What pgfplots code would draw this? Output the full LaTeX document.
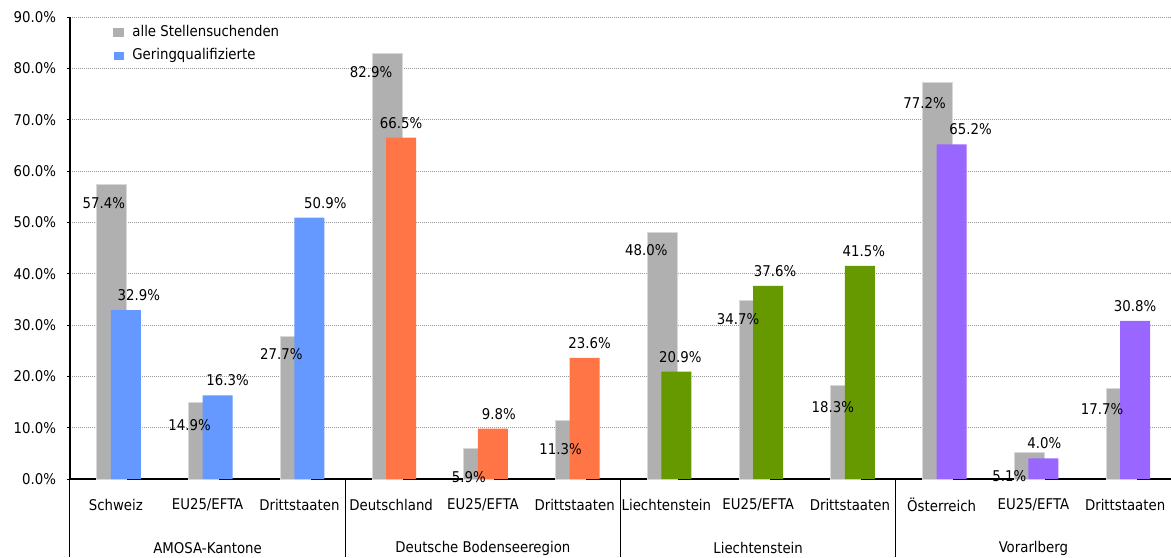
\documentclass[border=0pt]{standalone}
\usepackage{fontspec}
\setmainfont{DejaVu Sans Condensed}
\usepackage{pgfplots}
\pgfplotsset{compat=1.18}
\usepackage{pgfplotstable}

\definecolor{barGray}{HTML}{B0B0B0}
\definecolor{edgeGray}{HTML}{D8D8D8}
\definecolor{cBlue}{HTML}{6699FF}
\definecolor{cOrange}{HTML}{FF7545}
\definecolor{cGreen}{HTML}{669900}
\definecolor{cPurple}{HTML}{9966FF}
\definecolor{gridGray}{HTML}{999999}

\pgfkeys{/pgf/number format/assume math mode=true}

% alle Stellensuchenden; dx, dy = label offsets (pt)
\pgfplotstableread{
x y dx dy
0 57.4 -6 9.5
1 14.9 -9 11.5
2 27.7 -9 8.5
3 82.9 -10 9.5
4 5.9 -7 14
5 11.3 -7 14
6 48.0 -10 9
7 34.7 -10 9
8 18.3 -8.5 11
9 77.2 -8.5 10
10 5.1 -12 11.5
11 17.7 -11.5 10.5
}\alle

% Geringqualifizierte, one table per region
\pgfplotstableread{
x y dx
0 32.9 11.5
1 16.3 10
2 50.9 13
}\amosa
\pgfplotstableread{
x y dx
3 66.5 5
4 9.8 8
5 23.6 7.5
}\bodensee
\pgfplotstableread{
x y dx
6 20.9 7
7 37.6 8.5
8 41.5 7
}\liecht
\pgfplotstableread{
x y dx
9 65.2 14.5
10 4.0 5.5
11 30.8 5
}\vorarl

\begin{document}
\begin{tikzpicture}[font=\fontsize{7.4}{9}\selectfont]
\begin{axis}[
  scale only axis, width=550.5pt, height=231pt,
  xmin=-0.5, xmax=11.5, ymin=0, ymax=90,
  axis x line=bottom, axis y line=left,
  axis line style={line width=1pt, -},
  clip=false,
  xtick={0,...,11},
  xticklabels={Schweiz, EU25/EFTA, Drittstaaten, Deutschland, EU25/EFTA, Drittstaaten,
    Liechtenstein, EU25/EFTA, Drittstaaten, Österreich, EU25/EFTA, Drittstaaten},
  x tick style={draw=none},
  xticklabel style={anchor=center, yshift=-11.5pt},
  ytick={0,10,...,90},
  yticklabel={\pgfmathprintnumber[fixed,fixed zerofill,precision=1]{\tick}\%},
  y tick style={line width=0.5pt, black},
  tick align=outside, major tick length=1.5pt,
  yticklabel style={xshift=-2pt},
  ymajorgrids,
  major grid style={gridGray, line width=0.5pt, dash pattern=on 0.5pt off 0.5pt},
  legend style={at={(axis description cs:0,1)}, anchor=north west,
    xshift=21.5pt, yshift=-3pt, draw=none, fill=none, inner sep=0pt,
    row sep=2.5pt, column sep=3pt, nodes={inner sep=1pt}},
  legend cell align=left,
]
\coordinate (O) at (rel axis cs:0,0);

\addplot[ybar, bar width=0.327, bar shift=-0.044, fill=barGray, draw=edgeGray, line width=0.5pt,
  legend image code/.code={\fill[barGray] (0pt,-2pt) rectangle (5pt,2pt);},
  nodes near coords={\pgfmathprintnumber[fixed,fixed zerofill,precision=1]{\pgfplotspointmeta}\%},
  visualization depends on={\thisrow{dx}\as\dx},
  visualization depends on={\thisrow{dy}\as\dy},
  every node near coord/.append style={anchor=center, inner sep=0pt, xshift=\dx pt, yshift=-\dy pt}]
  table[x=x, y=y] {\alle};
\addlegendentry{alle Stellensuchenden}

\addplot[ybar, bar width=0.327, bar shift=0.109, fill=cBlue, draw=none,
  legend image code/.code={\fill[cBlue] (0pt,-2pt) rectangle (5pt,2pt);},
  nodes near coords={\pgfmathprintnumber[fixed,fixed zerofill,precision=1]{\pgfplotspointmeta}\%},
  visualization depends on={\thisrow{dx}\as\dx},
  every node near coord/.append style={anchor=center, inner sep=0pt, xshift=\dx pt, yshift=7.5pt}]
  table[x=x, y=y] {\amosa};
\addlegendentry{Geringqualifizierte}

\addplot[ybar, bar width=0.327, bar shift=0.109, fill=cOrange, draw=none, forget plot,
  nodes near coords={\pgfmathprintnumber[fixed,fixed zerofill,precision=1]{\pgfplotspointmeta}\%},
  visualization depends on={\thisrow{dx}\as\dx},
  every node near coord/.append style={anchor=center, inner sep=0pt, xshift=\dx pt, yshift=7.5pt}]
  table[x=x, y=y] {\bodensee};

\addplot[ybar, bar width=0.327, bar shift=0.109, fill=cGreen, draw=none, forget plot,
  nodes near coords={\pgfmathprintnumber[fixed,fixed zerofill,precision=1]{\pgfplotspointmeta}\%},
  visualization depends on={\thisrow{dx}\as\dx},
  every node near coord/.append style={anchor=center, inner sep=0pt, xshift=\dx pt, yshift=7.5pt}]
  table[x=x, y=y] {\liecht};

\addplot[ybar, bar width=0.327, bar shift=0.109, fill=cPurple, draw=none, forget plot,
  nodes near coords={\pgfmathprintnumber[fixed,fixed zerofill,precision=1]{\pgfplotspointmeta}\%},
  visualization depends on={\thisrow{dx}\as\dx},
  every node near coord/.append style={anchor=center, inner sep=0pt, xshift=\dx pt, yshift=7.5pt}]
  table[x=x, y=y] {\vorarl};

% group separators and group names
\draw[line width=0.5pt] (axis cs:-0.5,0) -- ([yshift=-39pt]axis cs:-0.5,0);
\draw[line width=0.5pt] (axis cs:2.5,0) -- ([yshift=-39pt]axis cs:2.5,0);
\draw[line width=0.5pt] (axis cs:5.5,0) -- ([yshift=-39pt]axis cs:5.5,0);
\draw[line width=0.5pt] (axis cs:8.5,0) -- ([yshift=-39pt]axis cs:8.5,0);
\node at (axis cs:1,0) [yshift=-34.5pt] {AMOSA-Kantone};
\node at (axis cs:4,0) [yshift=-34.5pt] {Deutsche Bodenseeregion};
\node at (axis cs:7,0) [yshift=-34.5pt] {Liechtenstein};
\node at (axis cs:10,0) [yshift=-34.5pt] {Vorarlberg};
\end{axis}
\pgfresetboundingbox
\path ([xshift=-35pt,yshift=-39pt]O) rectangle ([xshift=550.5pt,yshift=239.5pt]O);
\end{tikzpicture}
\end{document}
